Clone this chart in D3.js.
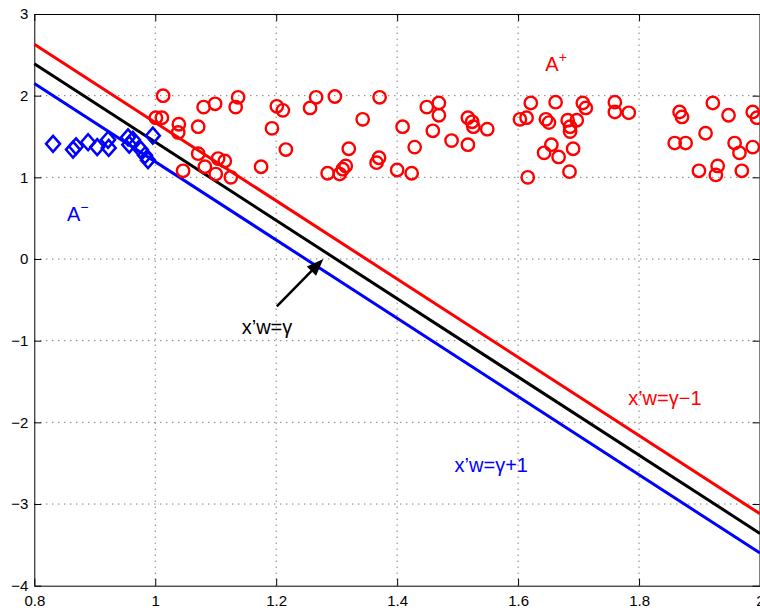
<!DOCTYPE html>
<html><head><meta charset="utf-8">
<script src="https://cdn.jsdelivr.net/npm/d3@7"></script>
<style>body{margin:0;background:#fff}svg{display:block}text{font-family:"Liberation Sans",Arial,Helvetica,sans-serif}</style>
</head><body><svg id="c" width="760" height="610"></svg>
<script>
// ---- data ----
const xTicks = [0.8, 1, 1.2, 1.4, 1.6, 1.8, 2];
const xTickLabels = ["0.8", "1", "1.2", "1.4", "1.6", "1.8", "2"];
const yTicks = [-4, -3, -2, -1, 0, 1, 2, 3];
const yTickLabels = ["\u22124", "\u22123", "\u22122", "\u22121", "0", "1", "2", "3"];

const lineX = [0.8, 2.0];
const lineMid = [2.39, -3.36];   // x'w = gamma
const lineMinus = [2.63, -3.12]; // x'w = gamma - 1 (red)
const linePlus = [2.15, -3.60];  // x'w = gamma + 1 (blue)

const aMinusX = [0.831,0.864,0.869,0.889,0.904,0.922,0.923,0.955,0.957,0.963,0.976,0.983,0.988,0.996];
const aMinusY = [1.41,1.34,1.38,1.43,1.37,1.46,1.36,1.49,1.40,1.46,1.34,1.27,1.21,1.51];

const aPlusX = [1.013,1.001,1.011,1.039,1.038,1.071,1.080,1.099,1.137,1.133,1.071,1.046,1.082,1.104,1.115,1.100,1.125,1.175,1.193,1.201,1.211,1.216,1.256,1.266,1.297,1.320,1.285,1.305,1.310,1.315,1.343,1.371,1.370,1.366,1.400,1.424,1.409,1.429,1.449,1.469,1.469,1.459,1.490,1.517,1.517,1.524,1.526,1.549,1.603,1.614,1.621,1.616,1.643,1.655,1.646,1.651,1.662,1.667,1.707,1.712,1.760,1.760,1.783,1.682,1.697,1.686,1.686,1.691,1.685,1.867,1.871,1.922,1.948,1.988,1.995,1.910,1.859,1.877,1.958,1.966,1.988,1.930,1.927,1.899,1.970];
const aPlusY = [2.00,1.73,1.73,1.65,1.55,1.62,1.86,1.90,1.98,1.86,1.29,1.08,1.13,1.23,1.20,1.04,1.00,1.13,1.60,1.87,1.82,1.34,1.85,1.98,1.99,1.35,1.05,1.04,1.10,1.14,1.71,1.98,1.24,1.18,1.09,1.05,1.62,1.37,1.86,1.91,1.76,1.57,1.45,1.40,1.73,1.68,1.62,1.59,1.71,1.73,1.91,1.00,1.30,1.40,1.71,1.67,1.92,1.25,1.91,1.85,1.92,1.80,1.79,1.70,1.70,1.62,1.56,1.35,1.07,1.80,1.74,1.91,1.76,1.80,1.73,1.54,1.42,1.42,1.42,1.30,1.37,1.14,1.03,1.08,1.08];

const arrowFrom = [1.201, -0.58];
const arrowTo = [1.278, 0.00];

// ---- chart ----
const W = 760, H = 610;
const m = {left: 34.3, top: 14, right: 0, bottom: 24.3};
const svg = d3.select("#c");
const x = d3.scaleLinear().domain([0.8, 2]).range([m.left, W - m.right]);
const y = d3.scaleLinear().domain([-4, 3]).range([H - m.bottom, m.top]);

// grid
const g = svg.append("g");
g.selectAll("line.gx").data(xTicks.slice(1, -1)).join("line")
  .attr("x1", d => x(d)).attr("x2", d => x(d)).attr("y1", y(-4)).attr("y2", y(3))
  .attr("stroke", "#444").attr("stroke-width", 1).attr("stroke-dasharray", "1,5");
g.selectAll("line.gy").data(yTicks.slice(1, -1)).join("line")
  .attr("y1", d => y(d)).attr("y2", d => y(d)).attr("x1", x(0.8)).attr("x2", x(2))
  .attr("stroke", "#444").attr("stroke-width", 1).attr("stroke-dasharray", "1,5");

// axes
const tl = 7;
const axB = d3.axisBottom(x).tickValues(xTicks).tickFormat((d, i) => xTickLabels[i]).tickSizeInner(-tl).tickSizeOuter(0).tickPadding(10);
const axL = d3.axisLeft(y).tickValues(yTicks).tickFormat((d, i) => yTickLabels[i]).tickSizeInner(-tl).tickSizeOuter(0).tickPadding(6);
const axT = d3.axisTop(x).tickValues(xTicks).tickFormat("").tickSizeInner(-tl).tickSizeOuter(0);
const axR = d3.axisRight(y).tickValues(yTicks).tickFormat("").tickSizeInner(-tl).tickSizeOuter(0);
function style(sel) {
  sel.selectAll("path").attr("stroke", "#000").attr("stroke-width", 1);
  sel.selectAll("line").attr("stroke", "#000").attr("stroke-width", 1);
  sel.selectAll("text").attr("fill", "#000").style("font-size", "15px").style("font-family", '"Liberation Sans",Arial,sans-serif');
}
svg.append("g").attr("transform", `translate(0,${y(-4)})`).call(axB).call(style);
svg.append("g").attr("transform", `translate(${x(0.8)},0)`).call(axL).call(style);
svg.append("g").attr("transform", `translate(0,${y(3)})`).call(axT).call(style);
svg.append("g").attr("transform", `translate(${x(2) - 0.5},0)`).call(axR).call(style);

// lines
const ln = d3.line().x(d => x(d[0])).y(d => y(d[1]));
[[lineMinus, "#ff0000"], [lineMid, "#000"], [linePlus, "#0000ff"]].forEach(([v, c]) => {
  svg.append("path").datum(lineX.map((xx, i) => [xx, v[i]])).attr("d", ln)
    .attr("fill", "none").attr("stroke", c).attr("stroke-width", 3);
});

// markers
const plus = aPlusX.map((d, i) => [d, aPlusY[i]]);
svg.append("g").selectAll("circle").data(plus).join("circle")
  .attr("cx", d => x(d[0])).attr("cy", d => y(d[1])).attr("r", 6.2)
  .attr("fill", "none").attr("stroke", "#ff0000").attr("stroke-width", 2.4);
const minus = aMinusX.map((d, i) => [d, aMinusY[i]]);
svg.append("g").selectAll("path").data(minus).join("path")
  .attr("d", d => { const cx = x(d[0]), cy = y(d[1]), a = 7, b = 8;
    return `M${cx},${cy - b}L${cx + a},${cy}L${cx},${cy + b}L${cx - a},${cy}Z`; })
  .attr("fill", "none").attr("stroke", "#0000ff").attr("stroke-width", 2.5);

// arrow
{
  const x1 = x(arrowFrom[0]), y1 = y(arrowFrom[1]), x2 = x(arrowTo[0]), y2 = y(arrowTo[1]);
  const ang = Math.atan2(y2 - y1, x2 - x1), L = 17, Wd = 6.5;
  const bx = x2 - L * Math.cos(ang), by = y2 - L * Math.sin(ang);
  svg.append("line").attr("x1", x1).attr("y1", y1).attr("x2", bx + 2 * Math.cos(ang)).attr("y2", by + 2 * Math.sin(ang))
    .attr("stroke", "#000").attr("stroke-width", 2.5);
  const px = -Math.sin(ang), py = Math.cos(ang);
  svg.append("path").attr("d", `M${x2},${y2}L${bx + px * Wd},${by + py * Wd}L${bx - px * Wd},${by - py * Wd}Z`)
    .attr("fill", "#000");
}

// labels
function label(xv, yv, txt, sup, col) {
  const t = svg.append("text").attr("x", x(xv)).attr("y", y(yv)).attr("fill", col).style("font-size", "20px").text(txt);
  if (sup) t.append("tspan").attr("dy", -9).style("font-size", "14px").text(sup);
}
label(1.143, -0.92, "x\u2019w=\u03b3", null, "#000");
label(1.782, -1.79, "x\u2019w=\u03b3\u22121", null, "#ff0000");
label(1.495, -2.61, "x\u2019w=\u03b3+1", null, "#0000ff");
label(1.645, 2.30, "A", "+", "#ff0000");
label(0.854, 0.47, "A", "\u2212", "#0000ff");
</script></body></html>
